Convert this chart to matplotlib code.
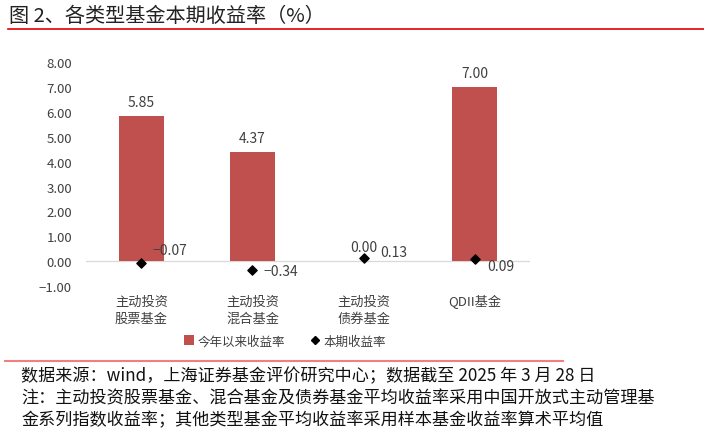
import matplotlib.pyplot as plt
from matplotlib.lines import Line2D
from matplotlib.patches import Patch

plt.rcParams['font.family'] = ['Noto Sans CJK SC', 'DejaVu Sans']

# data
categories = ['主动投资\n股票基金', '主动投资\n混合基金', '主动投资\n债券基金', 'QDII基金']
ytd_return = [5.85, 4.37, 0.00, 7.00]
period_return = [-0.07, -0.34, 0.13, 0.09]
yticks = [-1, 0, 1, 2, 3, 4, 5, 6, 7, 8]

bar_color = '#C0504D'
text_color = '#404040'

fig = plt.figure(figsize=(7.04, 4.35), dpi=100)
ax = fig.add_axes([0.122, 0.340, 0.631, 0.515])

x = range(len(categories))
ax.bar(x, ytd_return, width=0.4, color=bar_color, zorder=2)
ax.scatter(x, period_return, marker='D', s=22, color='black', zorder=3)
ax.axhline(0, color='#D9D9D9', lw=0.9, zorder=1)

ax.set_xlim(-0.5, len(categories) - 0.5)
ax.set_ylim(-1, 8)
ax.set_yticks(yticks)
ax.set_yticklabels([f'{v:.2f}'.replace('-', '−') for v in yticks])
ax.set_xticks(list(x))
ax.set_xticklabels(categories, linespacing=1.45, va='top')
ax.tick_params(axis='both', length=0, colors=text_color, labelsize=9.5)
ax.tick_params(axis='y', pad=10)
ax.tick_params(axis='x', pad=6)
for s in ax.spines.values():
    s.set_visible(False)

# bar value labels
for i, v in enumerate(ytd_return):
    ax.annotate(f'{v:.2f}', (i, v), xytext=(0, 5), textcoords='offset points',
                ha='center', va='bottom', fontsize=10, color=text_color)

# marker value labels
offsets = [(8, 9), (8, -1), (12, 4), (9, -5)]
for i, v in enumerate(period_return):
    ax.annotate(f'{v:.2f}'.replace('-', '−'), (i, v), xytext=offsets[i],
                textcoords='offset points', ha='left', va='center',
                fontsize=10, color=text_color)

handles = [Patch(facecolor=bar_color, label='今年以来收益率'),
           Line2D([], [], marker='D', color='black', ls='none', markersize=4.5,
                  label='本期收益率')]
fig.legend(handles=handles, loc='center', bbox_to_anchor=(0.405, 0.214), ncol=2,
           frameon=False, fontsize=9, handlelength=0.8, handleheight=0.8,
           handletextpad=0.3, columnspacing=2.0, labelcolor=text_color)

# title and red rules
fig.text(0.013, 0.962, '图 2、各类型基金本期收益率（%）', fontsize=14.5, va='center', color='#222222')
fig.add_artist(Line2D([0.011, 1.0], [0.931, 0.931], color='#E00000', lw=1.2))
fig.add_artist(Line2D([0.007, 0.80], [0.168, 0.168], color='#F08080', lw=1.5))

notes = ['数据来源：wind，上海证券基金评价研究中心；数据截至 2025 年 3 月 28 日',
         '注：主动投资股票基金、混合基金及债券基金平均收益率采用中国开放式主动管理基',
         '金系列指数收益率；其他类型基金平均收益率采用样本基金收益率算术平均值']
for k, t in enumerate(notes):
    fig.text(0.030, 1 - (376 + 22 * k) / 435, t, fontsize=12.3, va='center',
             style='italic', color='#111111')

fig.savefig('out.png', dpi=100)
